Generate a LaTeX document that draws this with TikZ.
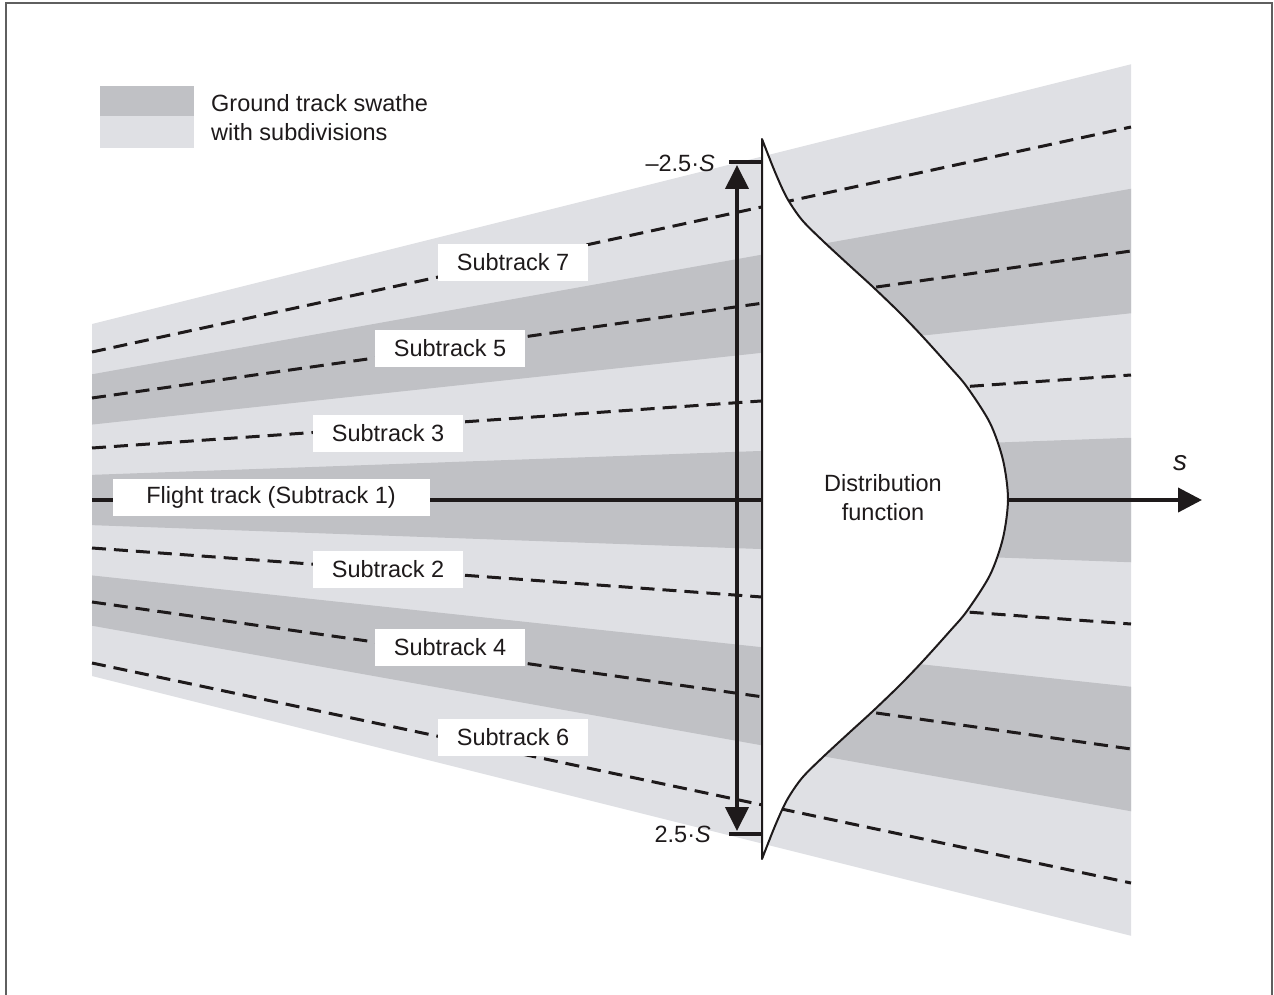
\documentclass[tikz,border=0pt]{standalone}
\usepackage{fontspec}
\setmainfont{Liberation Sans}
\usetikzlibrary{arrows.meta}
\definecolor{bandD}{RGB}{192,193,197}
\definecolor{bandL}{RGB}{223,224,228}
\definecolor{ink}{RGB}{30,26,27}
\definecolor{frameC}{RGB}{95,95,95}
\begin{document}
\begin{tikzpicture}[x=1pt,y=-1pt,
  lbl/.style={fill=white, inner sep=0pt, minimum width=150pt, minimum height=37pt,
              font=\fontsize{23.5}{28}\selectfont, text=ink},
  sub/.style={draw=ink, line width=3pt, dash pattern=on 14pt off 8pt},
  txt/.style={font=\fontsize{23.5}{29}\selectfont, text=ink, inner sep=0pt}]
\useasboundingbox (0,0) rectangle (1274,995);
% swathe
\fill[bandL] (92,324) -- (1131,64.25) -- (1131,935.75) -- (92,676) -- cycle;
\foreach \k in {1,3,5}
  \fill[bandD] (92,{324+\k*50.286}) -- (1131,{64.25+\k*124.5})
     -- (1131,{64.25+(\k+1)*124.5}) -- (92,{324+(\k+1)*50.286}) -- cycle;
% subtracks
\draw[sub] (92,352) -- (1131,127);
\draw[sub] (92,398) -- (1131,251);
\draw[sub] (92,448) -- (1131,375);
\draw[sub] (92,548) -- (1131,624);
\draw[sub] (92,602) -- (1131,749);
\draw[sub] (92,663) -- (1131,883);
% axis
\coordinate (ax0) at (92,500);
\coordinate (ax1) at (1202,500);
\draw[ink, line width=4pt, -{Triangle[length=24pt,width=24pt]}] (ax0) -- (ax1);
\node[font=\fontsize{28}{30}\selectfont\itshape, text=ink] (slab) at (1180,463) {s};
% labels
\node[lbl] (st7) at (513,262) {Subtrack 7};
\node[lbl] (st5) at (450,348) {Subtrack 5};
\node[lbl] (st3) at (388,433) {Subtrack 3};
\node[lbl, minimum width=317pt] (st1) at (271,497) {Flight track (Subtrack 1)};
\node[lbl] (st2) at (388,569) {Subtrack 2};
\node[lbl] (st4) at (450,647) {Subtrack 4};
\node[lbl] (st6) at (513,737) {Subtrack 6};
% distribution function
\draw[ink, line width=2pt, fill=white, line join=round]
  (762,139) -- (762,859) -- plot[smooth, tension=0.5] coordinates {
   (762,859) (775,826) (787,800) (802,778) (823,757) (850,732) (873,711)
   (900,685) (923,661) (950,631) (967,611) (990,575) (1003,538) (1008,499)
   (1003,460) (990,423) (967,387) (950,367) (923,337) (900,313) (873,287)
   (850,266) (823,241) (802,220) (787,198) (775,172) (762,139)} -- cycle;
\node[txt, align=center] (df) at (883,498) {Distribution\\function};
% vertical extent arrow
\coordinate (vt) at (737,165);
\coordinate (vb) at (737,831);
\draw[ink, line width=4pt, {Triangle[length=24pt,width=23pt]}-{Triangle[length=24pt,width=23pt]}] (vt) -- (vb);
\coordinate (tt0) at (729,162);
\coordinate (tt1) at (762,162);
\coordinate (tb0) at (729,834);
\coordinate (tb1) at (762,834);
\draw[ink, line width=4pt] (tt0) -- (tt1);
\draw[ink, line width=4pt] (tb0) -- (tb1);
\node[txt, anchor=east] (mlab) at (715,163) {–2.5·\textit{S}};
\node[txt, anchor=east] (plab) at (711,834) {2.5·\textit{S}};
% legend
\fill[bandD] (100,86) rectangle (194,116);
\fill[bandL] (100,116) rectangle (194,148);
\node[txt, anchor=west] (leg1) at (211,103) {Ground track swathe};
\node[txt, anchor=west] (leg2) at (211,132) {with subdivisions};
% frame
\draw[frameC, line width=2.5pt] (6,995) -- (6,3) -- (1272,3) -- (1272,995);
\end{tikzpicture}
\end{document}
